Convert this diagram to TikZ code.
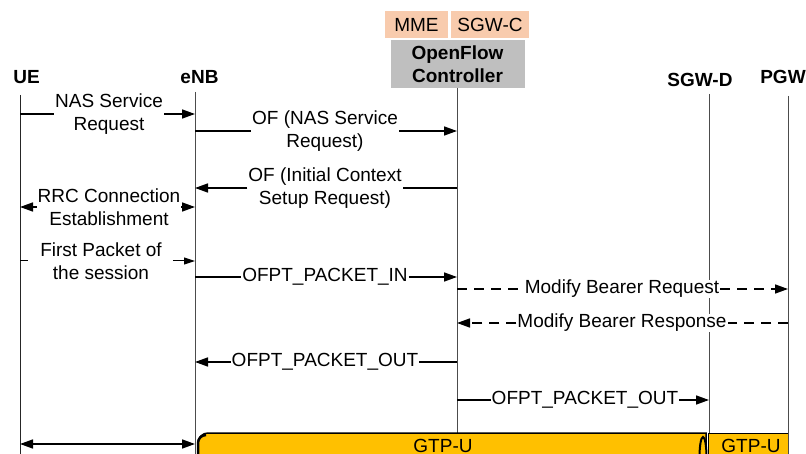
\documentclass[tikz,border=0pt]{standalone}
\usepackage{fontspec}
\setmainfont{Liberation Sans}
\usetikzlibrary{arrows.meta}
\definecolor{peach}{HTML}{F8CBAD}
\definecolor{ctrlgray}{HTML}{BFBFBF}
\definecolor{gtporange}{HTML}{FFC000}
\begin{document}
\begin{tikzpicture}[x=1pt,y=-1pt,
  txt/.style={font=\fontsize{19}{23}\selectfont},
  lbl/.style={txt, align=center, fill=white, inner xsep=1pt, inner ysep=0.5pt},
  actor/.style={font=\fontsize{19}{23}\selectfont\bfseries},
  life/.style={draw=black!70, line width=0.9pt},
  plain/.style={line width=1.6pt},
  msg/.style={line width=1.6pt, -{Triangle[length=13pt,width=9pt]}},
  thinmsg/.style={line width=1pt, -{Triangle[length=11pt,width=7pt]}},
  dashline/.style={line width=1.6pt, dash pattern=on 10pt off 7pt},
  hdr/.style={txt, fill=peach, minimum height=27pt, inner sep=0pt}
]
\clip (0,0) rectangle (806,454);
% headers
\node[hdr, minimum width=63pt] (mme) at (416.5,24.5) {MME};
\node[hdr, minimum width=78pt] (sgwc) at (490,24.5) {SGW-C};
\node[actor, fill=ctrlgray, align=center, minimum width=134pt, minimum height=48pt, inner sep=0pt] (ctrl) at (457.5,64) {OpenFlow\\Controller};
\node[actor] (ue) at (26.5,77) {UE};
\node[actor] (enb) at (199.5,77) {eNB};
\node[actor] (sgwd) at (700,80) {SGW-D};
\node[actor] (pgw) at (783,77) {PGW};
% lifeline coordinates
\coordinate (ueT) at (20,95);
\coordinate (enbT) at (195,92);
\coordinate (ctrlT) at (457,88);
\coordinate (sgwdT) at (709,94);
\coordinate (pgwT) at (788,96);
\coordinate (bot) at (0,454);
\draw[life, draw=black!85] (ueT) -- (ueT |- bot);
\draw[life] (enbT) -- (enbT |- bot);
\draw[life] (ctrlT) -- (ctrlT |- bot);
\draw[life] (sgwdT) -- (sgwdT |- bot);
\draw[life] (pgwT) -- (pgwT |- bot);
% messages
\node[lbl] (m1) at (109,114) {NAS Service\\Request};
\draw[plain] (ueT |- m1) -- (m1.west);
\draw[msg] (m1.east) -- (enbT |- m1);
\node[lbl] (m2) at (325,131) {OF (NAS Service\\Request)};
\draw[plain] (enbT |- m2) -- (m2.west);
\draw[msg] (m2.east) -- (ctrlT |- m2);
\node[lbl] (m3) at (325,188) {OF (Initial Context\\Setup Request)};
\draw[plain] (ctrlT |- m3) -- (m3.east);
\draw[msg] (m3.west) -- (enbT |- m3);
\node[lbl] (m4) at (109,207) {RRC Connection\\Establishment};
\draw[msg] (m4.west) -- (ueT |- m4);
\draw[msg] (m4.east) -- (enbT |- m4);
\node[lbl] (m5) at (101,261) {First Packet of\\the session};
\draw[line width=1pt] (ueT |- m5) -- ++(8,0);
\draw[thinmsg] (m5.east) ++(10,0) -- (enbT |- m5);
\node[lbl] (m6) at (325,277) {OFPT\_PACKET\_IN};
\draw[plain] (enbT |- m6) -- (m6.west);
\draw[msg] (m6.east) -- (ctrlT |- m6);
\node[lbl] (m7) at (622,289) {Modify Bearer Request};
\draw[dashline] (ctrlT |- m7) -- (m7.west);
\draw[dashline, -{Triangle[length=13pt,width=9pt]}] (m7.east) -- (pgwT |- m7);
\node[lbl] (m8) at (622,323) {Modify Bearer Response};
\draw[dashline] (pgwT |- m8) -- (m8.east);
\draw[dashline, -{Triangle[length=13pt,width=9pt]}] (m8.west) -- (ctrlT |- m8);
\node[lbl] (m9) at (325,362) {OFPT\_PACKET\_OUT};
\draw[plain] (ctrlT |- m9) -- (m9.east);
\draw[msg] (m9.west) -- (enbT |- m9);
\node[lbl] (m10) at (585,400) {OFPT\_PACKET\_OUT};
\draw[plain] (ctrlT |- m10) -- (m10.west);
\draw[msg] (m10.east) -- (sgwdT |- m10);
\coordinate (m11) at (0,444);
\draw[line width=1.6pt, {Triangle[length=13pt,width=9pt]}-{Triangle[length=13pt,width=9pt]}] (ueT |- m11) -- (enbT |- m11);
% GTP-U tunnels
\draw[line width=1.5pt, fill=gtporange] (706,480) -- (706,433) -- (208,433) arc[start angle=270, end angle=180, radius=10] -- (198,480) -- cycle;
\draw[line width=2.5pt] (206,435) arc[start angle=270, end angle=180, radius=8] -- (198,480);
\draw[line width=2pt, fill=gtporange] (703,457) ellipse (3.5 and 20);
\node[txt] (g1) at (443,446) {GTP-U};
\draw[line width=1pt, fill=gtporange] (708,433) rectangle (788,480);
\coordinate (bartop) at (0,433);
\draw[life] (pgwT |- bartop) -- (pgwT |- bot);
\node[txt] (g2) at (751,446) {GTP-U};
\end{tikzpicture}
\end{document}
